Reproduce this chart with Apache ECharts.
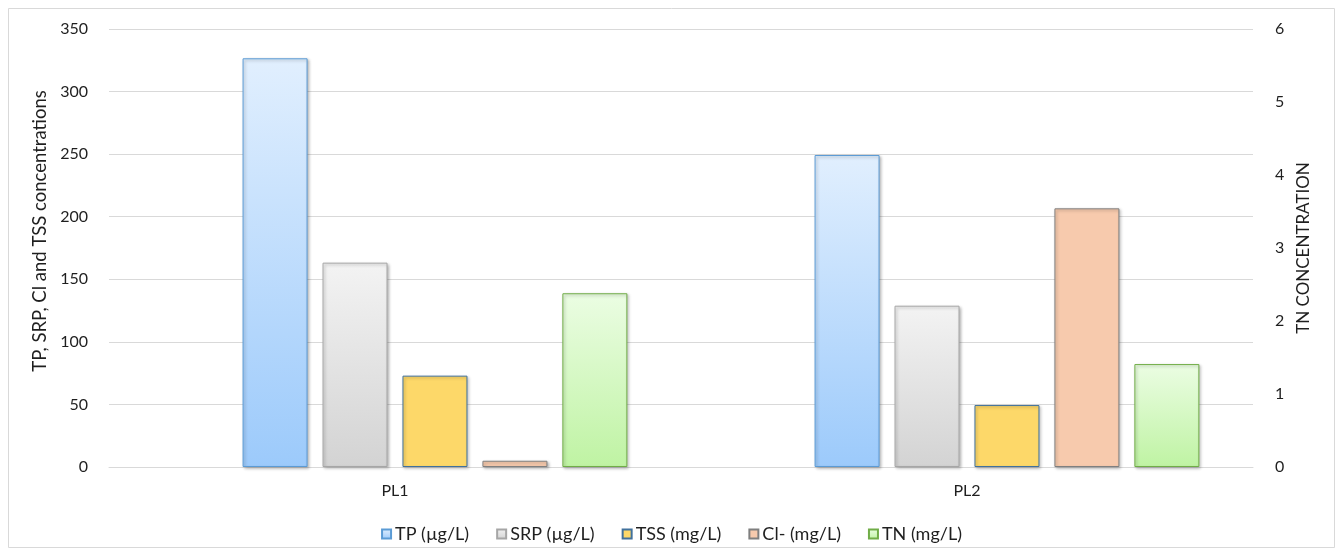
<!DOCTYPE html>
<html>
<head>
<meta charset="utf-8">
<script src="https://cdn.jsdelivr.net/npm/echarts@6/dist/echarts.min.js"></script>
<style>
  html, body { margin: 0; padding: 0; background: #ffffff; }
  #chart { width: 1343px; height: 556px; }
</style>
</head>
<body>
<div id="chart"></div>
<script>
// Sampling sites
const categories = ['PL1', 'PL2'];

// Concentrations on the left axis
const tpValues  = [326.6, 249.3];   // TP (µg/L)
const srpValues = [163.3, 128.9];   // SRP (µg/L)
const tssValues = [73.0, 49.5];     // TSS (mg/L)
const clValues  = [5.0, 206.7];     // Cl- (mg/L)

// Total nitrogen on the right axis
const tnValues  = [2.38, 1.41];     // TN (mg/L)

// Axis ranges
const leftMax = 350, leftStep = 50;
const rightMax = 6, rightStep = 1;

const seriesNames = ['TP (\u00b5g/L)', 'SRP (\u00b5g/L)', 'TSS (mg/L)', 'Cl- (mg/L)', 'TN (mg/L)'];

const FONT = 'Lato, "Open Sans", sans-serif';
const TEXT = '#1f1f1f';
const GRID = '#d9d9d9';

function vgrad(top, bottom) {
  return new echarts.graphic.LinearGradient(0, 0, 0, 1, [
    { offset: 0, color: top },
    { offset: 1, color: bottom }
  ]);
}

const shadow = {
  shadowColor: 'rgba(0,0,0,0.28)',
  shadowBlur: 3,
  shadowOffsetX: 1.5,
  shadowOffsetY: 1.5
};

const BAR_W = 65;
const BAR_GAP = '23%';

function barSeries(name, data, fill, border, yIndex) {
  return {
    name: name,
    type: 'bar',
    yAxisIndex: yIndex,
    data: data,
    barWidth: BAR_W,
    barGap: BAR_GAP,
    itemStyle: Object.assign({ color: fill, borderColor: border, borderWidth: 1 }, shadow),
    emphasis: { disabled: true },
    animation: false
  };
}

const chart = echarts.init(document.getElementById('chart'), null, { renderer: 'canvas' });

chart.setOption({
  backgroundColor: '#ffffff',
  animation: false,
  textStyle: { fontFamily: FONT, color: TEXT },
  graphic: [{
    type: 'rect',
    shape: { x: 8.5, y: 8.5, width: 1326, height: 539 },
    style: { fill: 'none', stroke: '#d9d9d9', lineWidth: 1 },
    silent: true,
    z: -1
  }],
  grid: { left: 109, right: 90, top: 29, bottom: 89, containLabel: false },
  legend: {
    data: seriesNames,
    bottom: 8,
    left: 'center',
    icon: 'rect',
    itemWidth: 9,
    itemHeight: 9,
    itemGap: 27,
    textStyle: { fontFamily: FONT, fontSize: 18, color: TEXT, padding: [0, 0, 0, -1] },
    selectedMode: false
  },
  xAxis: {
    type: 'category',
    data: categories,
    axisLine: { show: true, lineStyle: { color: GRID, width: 1 } },
    axisTick: { show: false },
    axisLabel: { fontFamily: FONT, fontSize: 16, color: TEXT, margin: 16 },
    splitLine: { show: false }
  },
  yAxis: [{
    type: 'value',
    min: 0,
    max: leftMax,
    interval: leftStep,
    name: 'TP, SRP, Cl and TSS concentrations',
    nameLocation: 'middle',
    nameRotate: 90,
    nameGap: 57,
    nameTextStyle: { fontFamily: FONT, fontSize: 18.5, color: TEXT, padding: [0, 0, 0, 34] },
    axisLine: { show: false },
    axisTick: { show: false },
    axisLabel: { fontFamily: FONT, fontSize: 16, color: TEXT, margin: 21 },
    splitLine: { show: true, lineStyle: { color: GRID, width: 1 } }
  }, {
    type: 'value',
    position: 'right',
    min: 0,
    max: rightMax,
    interval: rightStep,
    name: 'TN CONCENTRATION',
    nameLocation: 'middle',
    nameRotate: 90,
    nameGap: 41,
    nameTextStyle: { fontFamily: FONT, fontSize: 17, color: TEXT },
    axisLine: { show: false },
    axisTick: { show: false },
    axisLabel: { fontFamily: FONT, fontSize: 16, color: TEXT, margin: 22 },
    splitLine: { show: false }
  }],
  series: [
    // empty leading slot in each cluster
    { name: 'spacer', type: 'bar', data: [], barWidth: BAR_W, barGap: BAR_GAP, silent: true },
    barSeries(seriesNames[0], tpValues,  vgrad('#e1effe', '#9ccafb'), '#5b9bd5', 0),
    barSeries(seriesNames[1], srpValues, vgrad('#f3f3f3', '#d3d3d3'), '#a6a6a6', 0),
    barSeries(seriesNames[2], tssValues, '#fdd869', '#41719c', 0),
    barSeries(seriesNames[3], clValues,  '#f7caad', '#7f7f7f', 0),
    barSeries(seriesNames[4], tnValues,  vgrad('#ebfde3', '#bff3a3'), '#70ad47', 1)
  ]
});
</script>
</body>
</html>
